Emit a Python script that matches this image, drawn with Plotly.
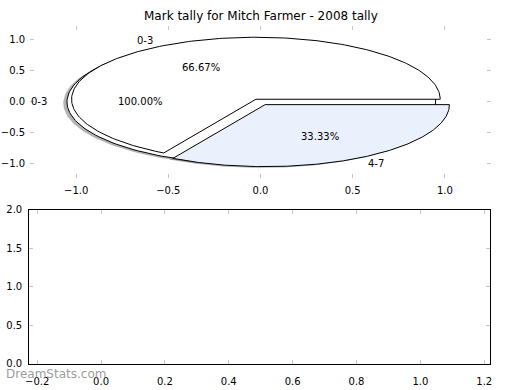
import numpy as np
import plotly.graph_objects as go

# ---- data ----
title_text = "Mark tally for Mitch Farmer - 2008 tally"
pie1_labels = ["0-3"]
pie1_values = [3]
pie2_labels = ["0-3", "4-7"]
pie2_values = [2, 1]
pie2_colors = ["#ffffff", "#eaf0fc"]
pie1_colors = ["#ffffff"]
explode = 0.05
top_xticks = [-1.0, -0.5, 0.0, 0.5, 1.0]
top_yticks = [-1.0, -0.5, 0.0, 0.5, 1.0]
bot_xticks = [-0.2, 0.0, 0.2, 0.4, 0.6, 0.8, 1.0, 1.2]
bot_yticks = [0.0, 0.5, 1.0, 1.5, 2.0]
watermark = "DreamStats.com"

W, H = 520, 390
FONT = "DejaVu Sans"


def wedges(values, expl):
    vals = np.asarray(values, dtype=float)
    fr = vals / vals.sum()
    out = []
    cum = 0.0
    for f in fr:
        t1, t2 = 360 * cum, 360 * (cum + f)
        mid = np.deg2rad((t1 + t2) / 2)
        cx, cy = expl * np.cos(mid), expl * np.sin(mid)
        th = np.deg2rad(np.linspace(t1, t2, 240))
        ax_ = cx + np.cos(th)
        ay_ = cy + np.sin(th)
        if f >= 0.9999:
            xs, ys = list(ax_), list(ay_)
        else:
            xs = [cx] + list(ax_) + [cx]
            ys = [cy] + list(ay_) + [cy]
        out.append(dict(xs=xs, ys=ys, cx=cx, cy=cy, mid=mid, frac=f))
        cum += f
    return out


w1 = wedges(pie1_values, explode)
w2 = wedges(pie2_values, explode)

fig = go.Figure()

# shadows first (below all wedges)
for w in w1 + w2:
    fig.add_trace(go.Scatter(
        x=[v - 0.02 for v in w["xs"]], y=[v - 0.02 for v in w["ys"]],
        mode="lines", fill="toself", fillcolor="rgba(77,77,77,0.42)",
        line=dict(width=0, color="rgba(0,0,0,0)"), hoverinfo="skip",
        showlegend=False, xaxis="x", yaxis="y"))

for w, c in list(zip(w1, pie1_colors)) + list(zip(w2, pie2_colors)):
    fig.add_trace(go.Scatter(
        x=w["xs"], y=w["ys"], mode="lines", fill="toself", fillcolor=c,
        line=dict(width=1, color="black"), hoverinfo="skip",
        showlegend=False, xaxis="x", yaxis="y"))

# empty lower axes
fig.add_trace(go.Scatter(x=[None], y=[None], mode="markers", hoverinfo="skip",
                         showlegend=False, xaxis="x2", yaxis="y2"))

annotations = []
for ws, labels in ((w1, pie1_labels), (w2, pie2_labels)):
    for w, lab in zip(ws, labels):
        lx = w["cx"] + 1.1 * np.cos(w["mid"])
        ly = w["cy"] + 1.1 * np.sin(w["mid"])
        annotations.append(dict(
            x=lx, y=ly, xref="x", yref="y", text=lab, showarrow=False,
            xanchor="left" if lx > 0 else "right", yanchor="middle",
            font=dict(family=FONT, size=10, color="black")))
        px = w["cx"] + 0.6 * np.cos(w["mid"])
        py = w["cy"] + 0.6 * np.sin(w["mid"])
        annotations.append(dict(
            x=px, y=py, xref="x", yref="y", text="%.2f%%" % (100 * w["frac"]),
            showarrow=False, xanchor="center", yanchor="middle",
            font=dict(family=FONT, size=10, color="black")))

annotations.append(dict(
    x=0, y=1 - 380 / H, xref="paper", yref="paper", text=watermark,
    showarrow=False, xanchor="left", yanchor="middle",
    font=dict(family=FONT, size=12, color="rgba(120,120,120,0.75)")))
annotations.append(dict(
    x=259.5 / W, y=1 - 10 / H, xref="paper", yref="paper", text=title_text,
    showarrow=False, xanchor="center", yanchor="middle",
    font=dict(family=FONT, size=12, color="black")))

tick_common = dict(ticks="inside", ticklen=4, tickwidth=1, tickcolor="#c4c4c4",
                   showgrid=False, zeroline=False,
                   tickfont=dict(family=FONT, size=10, color="black"))

fig.update_layout(
    width=W, height=H, margin=dict(l=0, r=0, t=0, b=0),
    paper_bgcolor="white", plot_bgcolor="white", showlegend=False,
    annotations=annotations,
    xaxis=dict(domain=[26.4 / W, 492.6 / W], range=[-1.25, 1.25],
               tickvals=top_xticks, tickformat=".1f", showline=False,
               mirror="ticks", anchor="y", ticklabelstandoff=5, **tick_common),
    yaxis=dict(domain=[1 - 177.7 / H, 1 - 20.3 / H], range=[-1.23, 1.23],
               tickvals=top_yticks, tickformat=".1f", showline=False,
               mirror="ticks", anchor="x", ticklabelstandoff=4, **tick_common),
    xaxis2=dict(domain=[25.5 / W, 492 / W], range=[-0.225, 1.219],
                tickvals=bot_xticks, tickformat=".1f", showline=True,
                linecolor="black", linewidth=1, mirror="ticks", anchor="y2",
                ticklabelstandoff=8, **tick_common),
    yaxis2=dict(domain=[1 - 369 / H, 1 - 210 / H], range=[0, 2],
                tickvals=bot_yticks, tickformat=".1f", showline=True,
                linecolor="black", linewidth=1, mirror="ticks", anchor="x2",
                ticklabelstandoff=4, **tick_common),
)

fig.write_html("out.html",
               config={"displayModeBar": False},
               post_script="document.body.style.margin='0';"
                           "document.body.style.overflow='hidden';")
